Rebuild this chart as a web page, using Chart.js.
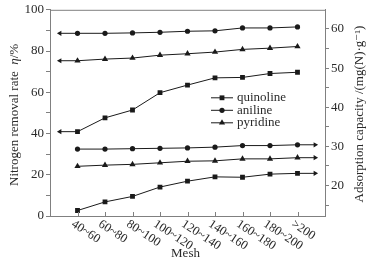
<!DOCTYPE html>
<html>
<head>
<meta charset="utf-8">
<script src="https://cdn.jsdelivr.net/npm/chart.js@4"></script>
<style>
  html, body { margin: 0; padding: 0; background: #fff; }
  #wrap { width: 377px; height: 261px; }
</style>
</head>
<body>
<div id="wrap"><canvas id="chart" width="377" height="261"></canvas></div>
<script>
// mesh size categories
const mesh = ['40~60', '60~80', '80~100', '100~120', '120~140', '140~160', '160~180', '180~200', '>200'];

// nitrogen removal rate, % (left axis)
const quinolineRate = [40.9, 47.6, 51.4, 59.8, 63.5, 67.0, 67.2, 69.1, 69.7];
const anilineRate = [88.6, 88.6, 88.8, 89.1, 89.6, 89.8, 91.2, 91.2, 91.7];
const pyridineRate = [75.3, 76.1, 76.6, 78.0, 78.7, 79.5, 80.8, 81.4, 82.2];

// adsorption capacity, mg(N)/g (right axis)
const quinolineCap = [13.6, 15.8, 17.2, 19.6, 21.1, 22.2, 22.1, 22.9, 23.1];
const anilineCap = [29.3, 29.3, 29.4, 29.5, 29.6, 29.8, 30.2, 30.2, 30.4];
const pyridineCap = [24.9, 25.2, 25.4, 25.8, 26.2, 26.3, 26.8, 26.8, 27.1];

const leftTicks = [0, 10, 20, 30, 40, 50, 60, 70, 80, 90, 100];
const rightTicks = [15, 20, 25, 30, 35, 40, 45, 50, 55, 60];

// where the arrow ends of the lines sit (in category units)
const arrowLeftAt = -0.64;
const arrowRightAt = 8.64;

const lineColor = '#1a1a1a';
const axisColor = '#808080';
const textColor = '#2a2a2a';
const serif = '"Liberation Serif", "DejaVu Serif", serif';

const species = [
    { name: 'quinoline', style: 'rect', r: 3.4 },
    { name: 'aniline', style: 'circle', r: 2.6 },
    { name: 'pyridine', style: 'triangle', r: 3.6 }
];

function makeSet(values, sp, axis, arrowSide) {
    let pts = values.map((v, i) => ({ x: i, y: v }));
    let styles = values.map(() => sp.style);
    let radii = values.map(() => sp.r);
    let rots = values.map(() => 0);
    if (arrowSide == 'left') {
        pts.unshift({ x: arrowLeftAt, y: values[0] });
        styles.unshift('triangle');
        radii.unshift(3);
        rots.unshift(-90);
    } else {
        pts.push({ x: arrowRightAt, y: values[values.length - 1] });
        styles.push('triangle');
        radii.push(3);
        rots.push(90);
    }
    return {
        label: sp.name,
        data: pts,
        yAxisID: axis,
        borderColor: lineColor,
        backgroundColor: lineColor,
        borderWidth: 1,
        pointStyle: styles,
        pointRadius: radii,
        pointRotation: rots,
        pointBorderWidth: 0,
        tension: 0
    };
}

const datasets = [
    makeSet(quinolineRate, species[0], 'y', 'left'),
    makeSet(anilineRate, species[1], 'y', 'left'),
    makeSet(pyridineRate, species[2], 'y', 'left'),
    makeSet(quinolineCap, species[0], 'y1', 'right'),
    makeSet(anilineCap, species[1], 'y1', 'right'),
    makeSet(pyridineCap, species[2], 'y1', 'right')
];

const extras = {
    id: 'extras',
    afterDraw(chart) {
        const ctx = chart.ctx;
        const a = chart.chartArea;
        const xs = chart.scales.x;
        ctx.save();

        // top frame line
        ctx.strokeStyle = axisColor;
        ctx.lineWidth = 1;
        ctx.beginPath();
        ctx.moveTo(a.left, a.top + 0.5);
        ctx.lineTo(a.right, a.top + 0.5);
        ctx.stroke();

        // inward x ticks + slanted labels
        ctx.font = '12.5px ' + serif;
        ctx.fillStyle = textColor;
        ctx.textAlign = 'left';
        ctx.textBaseline = 'middle';
        mesh.forEach((m, i) => {
            let px = Math.round(xs.getPixelForValue(i)) + 0.5;
            ctx.beginPath();
            ctx.moveTo(px, a.bottom);
            ctx.lineTo(px, a.bottom - 4);
            ctx.stroke();
            ctx.save();
            ctx.translate(px - 6, a.bottom + 7);
            ctx.rotate(0.58);
            ctx.fillText(m, 0, 0);
            ctx.restore();
        });

        // x title
        ctx.font = '13px ' + serif;
        ctx.textAlign = 'center';
        ctx.fillText('Mesh', (a.left + a.right) / 2 - 2, 254);

        // left title
        ctx.save();
        ctx.translate(15, (a.top + a.bottom) / 2 + 2);
        ctx.rotate(-Math.PI / 2);
        ctx.textAlign = 'left';
        let t1 = 'Nitrogen removal rate  ';
        let t2 = 'η';
        let t3 = '/%';
        ctx.font = '13px ' + serif;
        let w1 = ctx.measureText(t1).width;
        ctx.font = 'italic 13px ' + serif;
        let w2 = ctx.measureText(t2).width;
        ctx.font = '13px ' + serif;
        let w3 = ctx.measureText(t3).width;
        let start = -(w1 + w2 + w3) / 2;
        ctx.fillText(t1, start, 0);
        ctx.font = 'italic 13px ' + serif;
        ctx.fillText(t2, start + w1, 0);
        ctx.font = '13px ' + serif;
        ctx.fillText(t3, start + w1 + w2, 0);
        ctx.restore();

        // right title
        ctx.save();
        ctx.translate(360, 114);
        ctx.rotate(-Math.PI / 2);
        ctx.textAlign = 'center';
        ctx.font = '13px ' + serif;
        ctx.fillText('Adsorption capacity /(mg(N)·g\u207B\u00B9)', 0, 0);
        ctx.restore();

        // legend
        let lx = a.left + 161;
        let ly = a.top + 88;
        species.forEach((sp, k) => {
            let y = ly + k * 12.5;
            ctx.strokeStyle = lineColor;
            ctx.beginPath();
            ctx.moveTo(lx, y);
            ctx.lineTo(lx + 22, y);
            ctx.stroke();
            ctx.fillStyle = lineColor;
            Chart.helpers.drawPoint(ctx, { pointStyle: sp.style, radius: sp.r, rotation: 0, borderWidth: 0 }, lx + 11, y);
            ctx.fillStyle = textColor;
            ctx.textAlign = 'left';
            ctx.fillText(sp.name, lx + 26, y);
        });

        ctx.restore();
    }
};

new Chart(document.getElementById('chart'), {
    type: 'line',
    data: { datasets: datasets },
    options: {
        responsive: false,
        animation: false,
        layout: { padding: { top: 8, left: 0, right: 0, bottom: 0 } },
        plugins: { legend: { display: false }, tooltip: { enabled: false } },
        scales: {
            x: {
                type: 'linear',
                min: -1,
                max: 9,
                afterBuildTicks: s => { s.ticks = mesh.map((m, i) => ({ value: i })); },
                afterFit: s => { s.height = 45; },
                ticks: { display: false },
                grid: { display: false },
                border: { color: axisColor }
            },
            y: {
                position: 'left',
                min: 0,
                max: 100,
                afterBuildTicks: s => { s.ticks = leftTicks.map(v => ({ value: v })); },
                afterFit: s => { s.width = 50; },
                ticks: {
                    callback: v => (v % 20 == 0 ? v : ''),
                    font: { family: serif, size: 13 },
                    color: textColor,
                    padding: 2
                },
                grid: { drawOnChartArea: false, tickLength: 4, color: axisColor },
                border: { color: axisColor }
            },
            y1: {
                position: 'right',
                min: 12.2,
                max: 64.9,
                afterBuildTicks: s => { s.ticks = rightTicks.map(v => ({ value: v })); },
                afterFit: s => { s.width = 52; },
                ticks: {
                    callback: v => (v % 10 == 0 ? v : ''),
                    font: { family: serif, size: 13 },
                    color: textColor,
                    padding: 2
                },
                grid: { drawOnChartArea: false, tickLength: 4, color: axisColor },
                border: { color: axisColor }
            }
        }
    },
    plugins: [extras]
});
</script>
</body>
</html>
